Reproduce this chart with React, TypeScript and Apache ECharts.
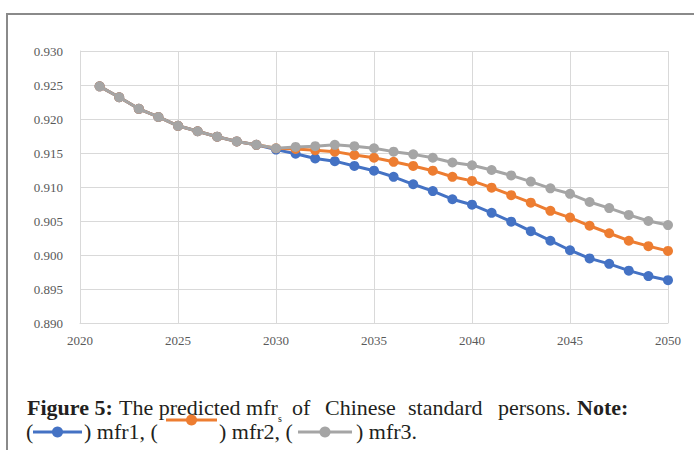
import React, { useEffect, useRef } from "react";
import * as echarts from "echarts";

// Projection years and the three mfr series
const years = [
  2021, 2022, 2023, 2024, 2025, 2026, 2027, 2028, 2029, 2030,
  2031, 2032, 2033, 2034, 2035, 2036, 2037, 2038, 2039, 2040,
  2041, 2042, 2043, 2044, 2045, 2046, 2047, 2048, 2049, 2050,
];

const mfr1 = [
  0.9248, 0.9232, 0.9215, 0.9203, 0.919, 0.9182, 0.9174, 0.9167, 0.9162, 0.9155,
  0.9149, 0.9142, 0.9138, 0.9131, 0.9124, 0.9115, 0.9104, 0.9094, 0.9082, 0.9074,
  0.9062, 0.9049, 0.9035, 0.9021, 0.9007, 0.8995, 0.8987, 0.8977, 0.8969, 0.8963,
];

const mfr2 = [
  0.9248, 0.9232, 0.9215, 0.9203, 0.919, 0.9182, 0.9174, 0.9167, 0.9162, 0.9157,
  0.9156, 0.9154, 0.9152, 0.9147, 0.9143, 0.9137, 0.9131, 0.9124, 0.9115, 0.9109,
  0.9099, 0.9088, 0.9077, 0.9065, 0.9055, 0.9043, 0.9032, 0.9021, 0.9013, 0.9006,
];

const mfr3 = [
  0.9248, 0.9232, 0.9215, 0.9203, 0.919, 0.9182, 0.9174, 0.9167, 0.9162, 0.9157,
  0.9159, 0.916, 0.9162, 0.916, 0.9157, 0.9152, 0.9148, 0.9143, 0.9136, 0.9132,
  0.9125, 0.9117, 0.9108, 0.9098, 0.909, 0.9078, 0.9069, 0.9059, 0.905, 0.9044,
];

const seriesNames = ["mfr1", "mfr2", "mfr3"];
const seriesColors = ["#4472C4", "#ED7D31", "#A5A5A5"];

const SERIF = "'Liberation Serif', 'DejaVu Serif', serif";
const CAPTION_SIZE = 22;

function legendIcon(x1: number, x2: number, y: number, color: string) {
  return [
    {
      type: "line",
      shape: { x1, y1: y, x2, y2: y },
      style: { stroke: color, lineWidth: 3 },
    },
    {
      type: "circle",
      shape: { cx: (x1 + x2) / 2, cy: y, r: 5.5 },
      style: { fill: color },
    },
  ];
}

function captionText(x: number, y: number, text: string, bold = false, size = CAPTION_SIZE) {
  return {
    type: "text",
    x,
    y,
    style: {
      text,
      fontFamily: SERIF,
      fontSize: size,
      fontWeight: bold ? "bold" : "normal",
      fill: "#231f20",
      verticalAlign: "middle",
      align: "left",
    },
  };
}

export default function App() {
  const ref = useRef<HTMLDivElement>(null);

  useEffect(() => {
    if (!ref.current) return;
    const chart = echarts.init(ref.current, undefined, { renderer: "svg" });

    const line1Y = 407;
    const line2Y = 431;

    chart.setOption({
      animation: false,
      backgroundColor: "#ffffff",
      grid: { left: 80, right: 26, top: 51, bottom: 127 },
      xAxis: {
        type: "value",
        min: 2020,
        max: 2050,
        interval: 5,
        axisLine: { show: true, lineStyle: { color: "#d9d9d9", width: 1 } },
        axisTick: { show: false },
        splitLine: { show: true, lineStyle: { color: "#d9d9d9", width: 1 } },
        axisLabel: {
          color: "#595959",
          fontFamily: SERIF,
          fontSize: 13,
          margin: 11,
          formatter: (v: number) => String(v),
        },
      },
      yAxis: {
        type: "value",
        min: 0.89,
        max: 0.93,
        interval: 0.005,
        axisLine: { show: true, lineStyle: { color: "#d9d9d9", width: 1 } },
        axisTick: { show: false },
        splitLine: { show: true, lineStyle: { color: "#d9d9d9", width: 1 } },
        axisLabel: {
          color: "#595959",
          fontFamily: SERIF,
          fontSize: 13,
          margin: 17,
          formatter: (v: number) => v.toFixed(3),
        },
      },
      series: [mfr1, mfr2, mfr3].map((vals, i) => ({
        name: seriesNames[i],
        type: "line",
        data: years.map((y, j) => [y, vals[j]]),
        symbol: "circle",
        symbolSize: 10,
        lineStyle: { color: seriesColors[i], width: 3 },
        itemStyle: { color: seriesColors[i] },
        z: 2 + i,
      })),
      graphic: [
        {
          type: "rect",
          shape: { x: 7, y: 14, width: 720, height: 480 },
          style: { fill: "none", stroke: "#8a8a8a", lineWidth: 2 },
          silent: true,
        },
        // caption, first line (justified across the box width)
        captionText(27, line1Y, "Figure 5:", true),
        captionText(119, line1Y, "The predicted mfr"),
        captionText(278, line1Y + 11, "s", false, 10),
        captionText(292, line1Y, "of"),
        captionText(325, line1Y, "Chinese"),
        captionText(408, line1Y, "standard"),
        captionText(498, line1Y, "persons."),
        captionText(577, line1Y, "Note:", true),
        // caption, second line with series keys
        captionText(26, line2Y, "("),
        ...legendIcon(33, 82, 432, seriesColors[0]),
        captionText(84, line2Y, ") mfr1, ("),
        ...legendIcon(166, 217, 420, seriesColors[1]),
        captionText(219, line2Y, ") mfr2, ("),
        ...legendIcon(298, 352, 432, seriesColors[2]),
        captionText(356, line2Y, ") mfr3."),
      ],
    });

    return () => chart.dispose();
  }, []);

  return (
    <div
      ref={ref}
      style={{ position: "fixed", left: 0, top: 0, width: 694, height: 450 }}
    />
  );
}
